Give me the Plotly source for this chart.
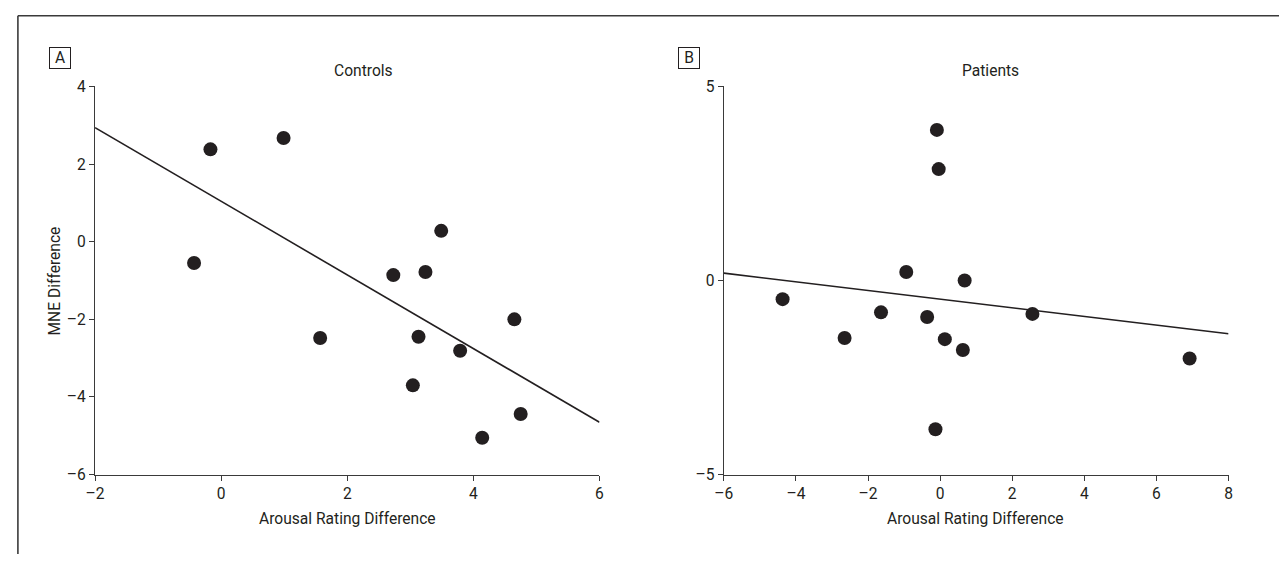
import plotly.graph_objects as go

# ---- data ----
controls_x = [-0.17, 0.99, -0.43, 3.49, 2.73, 3.24, 4.65, 1.57, 3.13, 3.79, 3.04, 4.75, 4.14]
controls_y = [2.38, 2.67, -0.55, 0.28, -0.86, -0.78, -2.00, -2.48, -2.45, -2.81, -3.70, -4.44, -5.05]
controls_fit_x = [-2, 6]
controls_fit_y = [2.94, -4.65]

patients_x = [-0.09, -0.04, -0.94, 0.68, -4.37, -1.64, -0.36, 2.56, -2.65, 0.13, 0.63, 6.92, -0.13]
patients_y = [3.88, 2.87, 0.22, 0.00, -0.48, -0.82, -0.94, -0.86, -1.48, -1.51, -1.79, -2.01, -3.83]
patients_fit_x = [-6, 8]
patients_fit_y = [0.19, -1.37]

controls_xticks = [-2, 0, 2, 4, 6]
controls_yticks = [-6, -4, -2, 0, 2, 4]
patients_xticks = [-6, -4, -2, 0, 2, 4, 6, 8]
patients_yticks = [-5, 0, 5]

W, H = 1284, 563
FONT = "Roboto, Liberation Sans, Arial, sans-serif"
FS = 15.6
INK = "#231f20"
AX = "#3a3a3a"


def px(X):
    return X / W


def py(Y):
    return 1 - Y / H


def minus(v):
    return str(v).replace("-", "\u2013")


fig = go.Figure()

fig.add_trace(go.Scatter(x=controls_fit_x, y=controls_fit_y, mode="lines",
                         line=dict(color=INK, width=1.6), xaxis="x", yaxis="y",
                         showlegend=False, hoverinfo="skip"))
fig.add_trace(go.Scatter(x=controls_x, y=controls_y, mode="markers",
                         marker=dict(color=INK, size=14), xaxis="x", yaxis="y",
                         showlegend=False))
fig.add_trace(go.Scatter(x=patients_fit_x, y=patients_fit_y, mode="lines",
                         line=dict(color=INK, width=1.6), xaxis="x2", yaxis="y2",
                         showlegend=False, hoverinfo="skip"))
fig.add_trace(go.Scatter(x=patients_x, y=patients_y, mode="markers",
                         marker=dict(color=INK, size=14), xaxis="x2", yaxis="y2",
                         showlegend=False))

axis_common = dict(showgrid=False, zeroline=False, showline=True, linecolor=AX,
                   linewidth=1.3, ticks="outside", ticklen=5, tickwidth=1.2,
                   tickcolor=AX, tickfont=dict(family=FONT, size=FS, color=INK))

ydom = [py(481), py(80)]
fig.update_layout(
    width=W, height=H, margin=dict(l=0, r=0, t=0, b=0),
    paper_bgcolor="white", plot_bgcolor="white",
    xaxis=dict(domain=[px(87), px(597)], range=[-2, 6], tickvals=controls_xticks,
               ticktext=[minus(v) for v in controls_xticks], anchor="y", **axis_common),
    yaxis=dict(domain=ydom, range=[-6, 4], tickvals=controls_yticks,
               ticktext=[minus(v) for v in controls_yticks], anchor="x", **axis_common),
    xaxis2=dict(domain=[px(722.7), px(1233)], range=[-6, 8], tickvals=patients_xticks,
                ticktext=[minus(v) for v in patients_xticks], anchor="y2", **axis_common),
    yaxis2=dict(domain=ydom, range=[-5, 5], tickvals=patients_yticks,
                ticktext=[minus(v) for v in patients_yticks], anchor="x2", **axis_common),
)

ann_font = dict(family=FONT, size=FS, color=INK)
annotations = [
    dict(text="Controls", x=px(358), y=py(64)),
    dict(text="Patients", x=px(992), y=py(64)),
    dict(text="Arousal Rating Difference", x=px(342), y=py(527)),
    dict(text="Arousal Rating Difference", x=px(977), y=py(527)),
    dict(text="MNE Difference", x=px(47), y=py(281), textangle=-90),
]
for a in annotations:
    fig.add_annotation(xref="paper", yref="paper", showarrow=False,
                       xanchor="center", yanchor="middle", font=ann_font, **a)

for label, cx in (("A", 52), ("B", 687.7)):
    fig.add_annotation(text=label, xref="paper", yref="paper", x=px(cx), y=py(51),
                       showarrow=False, xanchor="center", yanchor="middle",
                       font=ann_font, bordercolor=INK, borderwidth=1, borderpad=2,
                       width=16, height=16)

# outer frame (top and left edges)
fig.add_shape(type="line", xref="paper", yref="paper", x0=px(9), y0=py(7), x1=1, y1=py(7),
              line=dict(color=AX, width=1.6))
fig.add_shape(type="line", xref="paper", yref="paper", x0=px(9), y0=py(7), x1=px(9), y1=0,
              line=dict(color=AX, width=1.6))

fig.write_html("out.html")
